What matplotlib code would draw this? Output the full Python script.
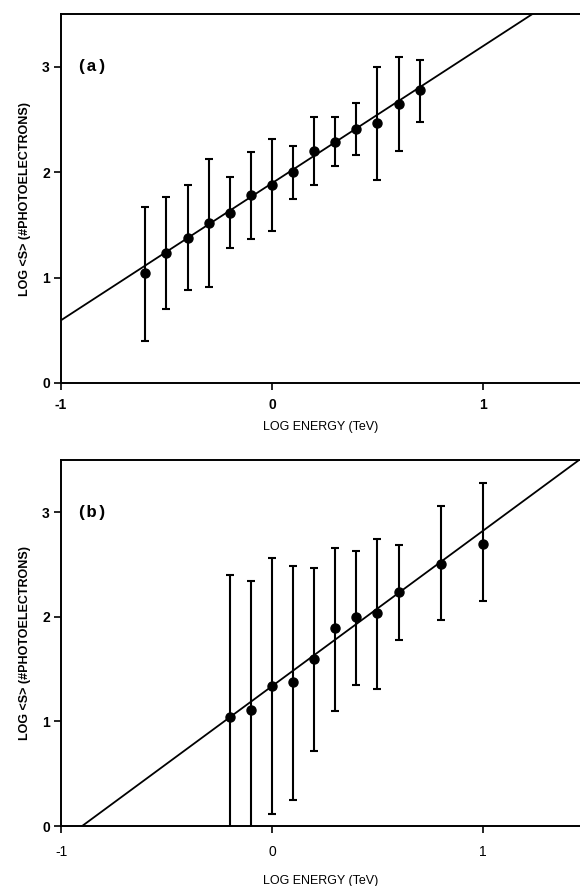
import numpy as np
import matplotlib
matplotlib.use("Agg")
import matplotlib.pyplot as plt

# panel (a): log energy, log <S>, error bar ends
energy_a = [-0.6, -0.5, -0.4, -0.3, -0.2, -0.1, 0.0, 0.1, 0.2, 0.3, 0.4, 0.5, 0.6, 0.7]
signal_a = [1.04, 1.23, 1.38, 1.52, 1.61, 1.78, 1.88, 2.00, 2.20, 2.29, 2.41, 2.47, 2.65, 2.78]
upper_a = [1.67, 1.76, 1.88, 2.12, 1.95, 2.19, 2.31, 2.25, 2.52, 2.52, 2.66, 3.00, 3.09, 3.06]
lower_a = [0.40, 0.70, 0.88, 0.91, 1.28, 1.37, 1.44, 1.75, 1.88, 2.06, 2.16, 1.93, 2.20, 2.48]
fit_a = (1.30, 1.895)  # slope, intercept

# panel (b)
energy_b = [-0.2, -0.1, 0.0, 0.1, 0.2, 0.3, 0.4, 0.5, 0.6, 0.8, 1.0]
signal_b = [1.04, 1.11, 1.34, 1.38, 1.60, 1.89, 2.00, 2.04, 2.24, 2.51, 2.70]
upper_b = [2.40, 2.34, 2.56, 2.49, 2.47, 2.66, 2.63, 2.74, 2.69, 3.06, 3.28]
lower_b = [-0.05, -0.05, 0.11, 0.25, 0.72, 1.10, 1.35, 1.31, 1.78, 1.97, 2.15]
fit_b = (1.486, 1.337)

XLIM = (-1, 1.46)
YLIM = (0, 3.5)

plt.rcParams['font.family'] = ['Liberation Sans', 'DejaVu Sans']

fig = plt.figure(figsize=(5.8, 8.86), dpi=100)
W, H = 580.0, 886.0


def make_axes(top, bottom):
    return fig.add_axes([61 / W, 1 - bottom / H, (580 - 61) / W, (bottom - top) / H])


def panel(ax, xs, ys, up, lo, fit, tag, tickweight, xpad):
    ys = np.array(ys)
    yerr = [ys - np.array(lo), np.array(up) - ys]
    xx = np.array(XLIM)
    ax.plot(xx, fit[0] * xx + fit[1], color='black', lw=1.3, zorder=2)
    ax.errorbar(xs, ys, yerr=yerr, fmt='o', color='black', ms=6.5,
                elinewidth=1.5, capsize=2.8, capthick=1.5, zorder=3)
    ax.set_xlim(*XLIM)
    ax.set_ylim(*YLIM)
    ax.set_xticks([-1, 0, 1])
    ax.set_xticklabels(['-1', '0', '1'], fontweight=tickweight, fontsize=10)
    ax.set_yticks([0, 1, 2, 3])
    ax.set_yticklabels(['0', '1', '2', '3'], fontweight='bold', fontsize=10)
    ax.tick_params(direction='out', length=5, width=1.2, pad=3)
    ax.tick_params(axis='x', pad=xpad)
    ax.spines['right'].set_visible(False)
    for s in ('left', 'top', 'bottom'):
        ax.spines[s].set_linewidth(1.4)
    ax.set_ylabel('LOG <S> (#PHOTOELECTRONS)', fontsize=9, fontweight='bold', labelpad=8)
    ax.text(-0.93, 3.0, tag, family=['Liberation Mono', 'DejaVu Sans Mono'],
            fontweight='bold', fontsize=12.5, va='center', ha='left')


ax1 = make_axes(14, 383)
panel(ax1, energy_a, signal_a, upper_a, lower_a, fit_a, '(a)', 'bold', 6)
ax1.set_xlabel('LOG ENERGY (TeV)', fontsize=9, labelpad=6)

ax2 = make_axes(460, 826)
panel(ax2, energy_b, signal_b, upper_b, lower_b, fit_b, '(b)', 'normal', 9)
ax2.set_xlabel('LOG ENERGY (TeV)', fontsize=9, labelpad=11)

fig.savefig('out.png', dpi=100)
